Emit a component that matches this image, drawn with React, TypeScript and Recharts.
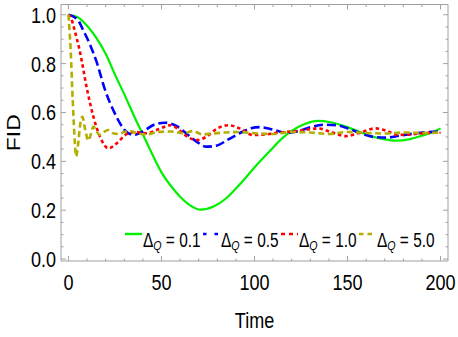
import React from 'react';
import { LineChart, Line, XAxis, YAxis, Legend } from 'recharts';

// time / FID samples
const greenT = [0, 5, 10, 15, 20, 25, 30, 35, 40, 45, 50, 55, 60, 65, 71, 78, 85, 92, 100, 108, 115, 120, 127, 134, 141, 148, 155, 162, 170, 176, 183, 190, 196, 200];
const greenV = [1.0, 0.99, 0.955, 0.905, 0.84, 0.755, 0.675, 0.59, 0.51, 0.43, 0.355, 0.3, 0.255, 0.222, 0.202, 0.215, 0.25, 0.305, 0.375, 0.44, 0.495, 0.525, 0.553, 0.566, 0.56, 0.545, 0.525, 0.505, 0.49, 0.485, 0.49, 0.505, 0.52, 0.535];

const blueT = [0, 5, 8, 10, 15, 20, 25, 30, 35, 40, 46, 52, 58, 64, 69, 74, 79, 86, 92, 98, 103, 110, 117, 124, 130, 137, 144, 150, 157, 164, 171, 178, 185, 192, 200];
const blueV = [1.0, 0.98, 0.935, 0.905, 0.81, 0.685, 0.595, 0.53, 0.508, 0.522, 0.55, 0.558, 0.545, 0.51, 0.48, 0.46, 0.463, 0.49, 0.515, 0.535, 0.54, 0.53, 0.517, 0.525, 0.54, 0.55, 0.548, 0.535, 0.515, 0.5, 0.497, 0.505, 0.513, 0.519, 0.522];

const redT = [0, 1.5, 3, 6, 10, 13.5, 17, 21.5, 26, 31, 36, 42, 48, 55, 60, 64, 69, 74, 80, 86, 92, 99, 106, 113, 120, 127, 134, 141, 149, 157, 165, 171, 177, 184, 192, 200];
const redV = [1.0, 0.985, 0.945, 0.855, 0.695, 0.58, 0.5, 0.453, 0.474, 0.51, 0.52, 0.515, 0.53, 0.548, 0.525, 0.5, 0.487, 0.5, 0.535, 0.548, 0.535, 0.508, 0.51, 0.518, 0.522, 0.528, 0.535, 0.52, 0.503, 0.518, 0.535, 0.525, 0.508, 0.51, 0.516, 0.517];

const goldT = [0, 1.2, 2.3, 3.5, 4.1, 5.2, 6.3, 7.5, 9, 10.7, 12, 13.4, 15, 16.6, 19, 21.5, 24, 27, 30, 33, 37, 42, 48, 55, 62, 67, 72, 78, 84, 92, 100, 110, 120, 130, 140, 150, 160, 170, 180, 190, 200];
const goldV = [1.0, 0.855, 0.65, 0.47, 0.42, 0.47, 0.55, 0.582, 0.53, 0.485, 0.51, 0.542, 0.525, 0.508, 0.52, 0.528, 0.515, 0.512, 0.52, 0.524, 0.515, 0.51, 0.52, 0.522, 0.515, 0.524, 0.51, 0.514, 0.518, 0.52, 0.515, 0.512, 0.52, 0.518, 0.512, 0.52, 0.516, 0.514, 0.518, 0.516, 0.518];

const deltaLabels = ['0.1', '0.5', '1.0', '5.0'];
const xTicks = [0, 10, 20, 30, 40, 50, 60, 70, 80, 90, 100, 110, 120, 130, 140, 150, 160, 170, 180, 190, 200];
const yTicks = [0, 0.05, 0.1, 0.15, 0.2, 0.25, 0.3, 0.35, 0.4, 0.45, 0.5, 0.55, 0.6, 0.65, 0.7, 0.75, 0.8, 0.85, 0.9, 0.95, 1.0];

const pts = (t: number[], v: number[]) => t.map((x, i) => ({ t: x, fid: v[i] }));

const series = [
    { name: deltaLabels[0], data: pts(greenT, greenV), color: '#00f000', dash: undefined, width: 2.2, legendDash: undefined },
    { name: deltaLabels[1], data: pts(blueT, blueV), color: '#0000ff', dash: '9 4', width: 2.6, legendDash: '3.5 8' },
    { name: deltaLabels[2], data: pts(redT, redV), color: '#ff0000', dash: '3.5 3', width: 2.6, legendDash: '4 4' },
    { name: deltaLabels[3], data: pts(goldT, goldV), color: '#b3ae00', dash: '6 3.5', width: 2.6, legendDash: '4.5 4' },
];

const FRAME = '#a0a0a0';
const FONT = "'Liberation Sans', Arial, sans-serif";
const SQ = 0.82; // text is horizontally squeezed in the original

const isMajorX = (v: number) => v % 50 === 0;
const isMajorY = (v: number) => Math.abs(v * 5 - Math.round(v * 5)) < 1e-6;

const BottomTick = ({ x, y, payload }: any) => {
    const major = isMajorX(payload.value);
    return (
        <g>
            <line x1={x} x2={x} y1={y} y2={y - (major ? 5 : 2.5)} stroke={FRAME} />
            {major && (
                <text transform={`translate(${x},${y + 28.5}) scale(${SQ},1)`} textAnchor="middle"
                    fontSize={22} fontFamily={FONT} fill="#000">{payload.value}</text>
            )}
        </g>
    );
};

const TopTick = ({ x, y, payload }: any) => {
    const major = isMajorX(payload.value);
    return <line x1={x} x2={x} y1={y} y2={y + (major ? 5 : 2.5)} stroke={FRAME} />;
};

const LeftTick = ({ x, y, payload }: any) => {
    const major = isMajorY(payload.value);
    return (
        <g>
            <line x1={x} x2={x + (major ? 5 : 2.5)} y1={y} y2={y} stroke={FRAME} />
            {major && (
                <text transform={`translate(${x - 5},${y}) scale(${SQ},1)`} textAnchor="end" dy="0.36em"
                    fontSize={22} fontFamily={FONT} fill="#000">{payload.value.toFixed(1)}</text>
            )}
        </g>
    );
};

const RightTick = ({ x, y, payload }: any) => {
    const major = isMajorY(payload.value);
    return <line x1={x} x2={x - (major ? 5 : 2.5)} y1={y} y2={y} stroke={FRAME} />;
};

const TimeLabel = ({ viewBox }: any) => (
    <text transform={`translate(${viewBox.x + viewBox.width / 2},${viewBox.y + 67}) scale(${SQ},1)`}
        textAnchor="middle" fontSize={22} fontFamily={FONT} fill="#000">Time</text>
);

const FidLabel = ({ viewBox }: any) => (
    <text transform={`translate(13.5,${viewBox.y + viewBox.height / 2}) scale(${SQ},1) rotate(-90)`}
        textAnchor="middle" dy="0.36em" fontSize={23} fontFamily={FONT} fill="#000">FID</text>
);

const LegendRow = () => (
    <svg width={458} height={32} style={{ display: 'block' }}>
        {series.map((s, i) => {
            const x0 = 125 + i * 78;
            return (
                <g key={s.name}>
                    <line x1={x0} x2={x0 + 17} y1={12} y2={12} stroke={s.color} strokeWidth={2.4}
                        strokeDasharray={s.legendDash} />
                    <text transform={`translate(${x0 + 18},24.5) scale(0.79,1)`} fontSize={19.5}
                        fontFamily={FONT} fill="#000">
                        Δ<tspan fontStyle="italic" fontSize={13.5} dy={3}>Q</tspan>
                        <tspan dy={-3}>{` = ${s.name}`}</tspan>
                    </text>
                </g>
            );
        })}
    </svg>
);

export default function App() {
    return (
        <div style={{ position: 'absolute', left: 0, top: 0, width: 458, height: 337, background: '#fff' }}>
            <LineChart width={458} height={337} margin={{ top: 3.5, right: 9, bottom: 0, left: 0 }}>
                <XAxis xAxisId="b" dataKey="t" type="number" domain={[-4, 204]} allowDataOverflow
                    ticks={xTicks} interval={0} tickSize={0} tickMargin={0} height={76}
                    axisLine={{ stroke: FRAME }} tick={<BottomTick />} label={<TimeLabel />} />
                <XAxis xAxisId="top" orientation="top" dataKey="t" type="number" domain={[-4, 204]}
                    allowDataOverflow ticks={xTicks} interval={0} tickSize={0} tickMargin={0} height={1}
                    axisLine={{ stroke: FRAME }} tick={<TopTick />} />
                <YAxis yAxisId="l" type="number" domain={[-0.008, 1.042]} allowDataOverflow
                    ticks={yTicks} interval={0} tickSize={0} tickMargin={0} width={61}
                    axisLine={{ stroke: FRAME }} tick={<LeftTick />} label={<FidLabel />} />
                <YAxis yAxisId="r" orientation="right" type="number" domain={[-0.008, 1.042]}
                    allowDataOverflow ticks={yTicks} interval={0} tickSize={0} tickMargin={0} width={1}
                    axisLine={{ stroke: FRAME }} tick={<RightTick />} />
                <Legend layout="horizontal" verticalAlign="middle" align="center"
                    content={() => <LegendRow />}
                    wrapperStyle={{ left: 0, top: 222, width: 458, height: 32 }} />
                {series.map(s => (
                    <Line key={s.name} xAxisId="b" yAxisId="l" data={s.data} dataKey="fid" type="monotone"
                        stroke={s.color} strokeWidth={s.width} strokeDasharray={s.dash}
                        dot={false} activeDot={false} isAnimationActive={false} />
                ))}
            </LineChart>
        </div>
    );
}
